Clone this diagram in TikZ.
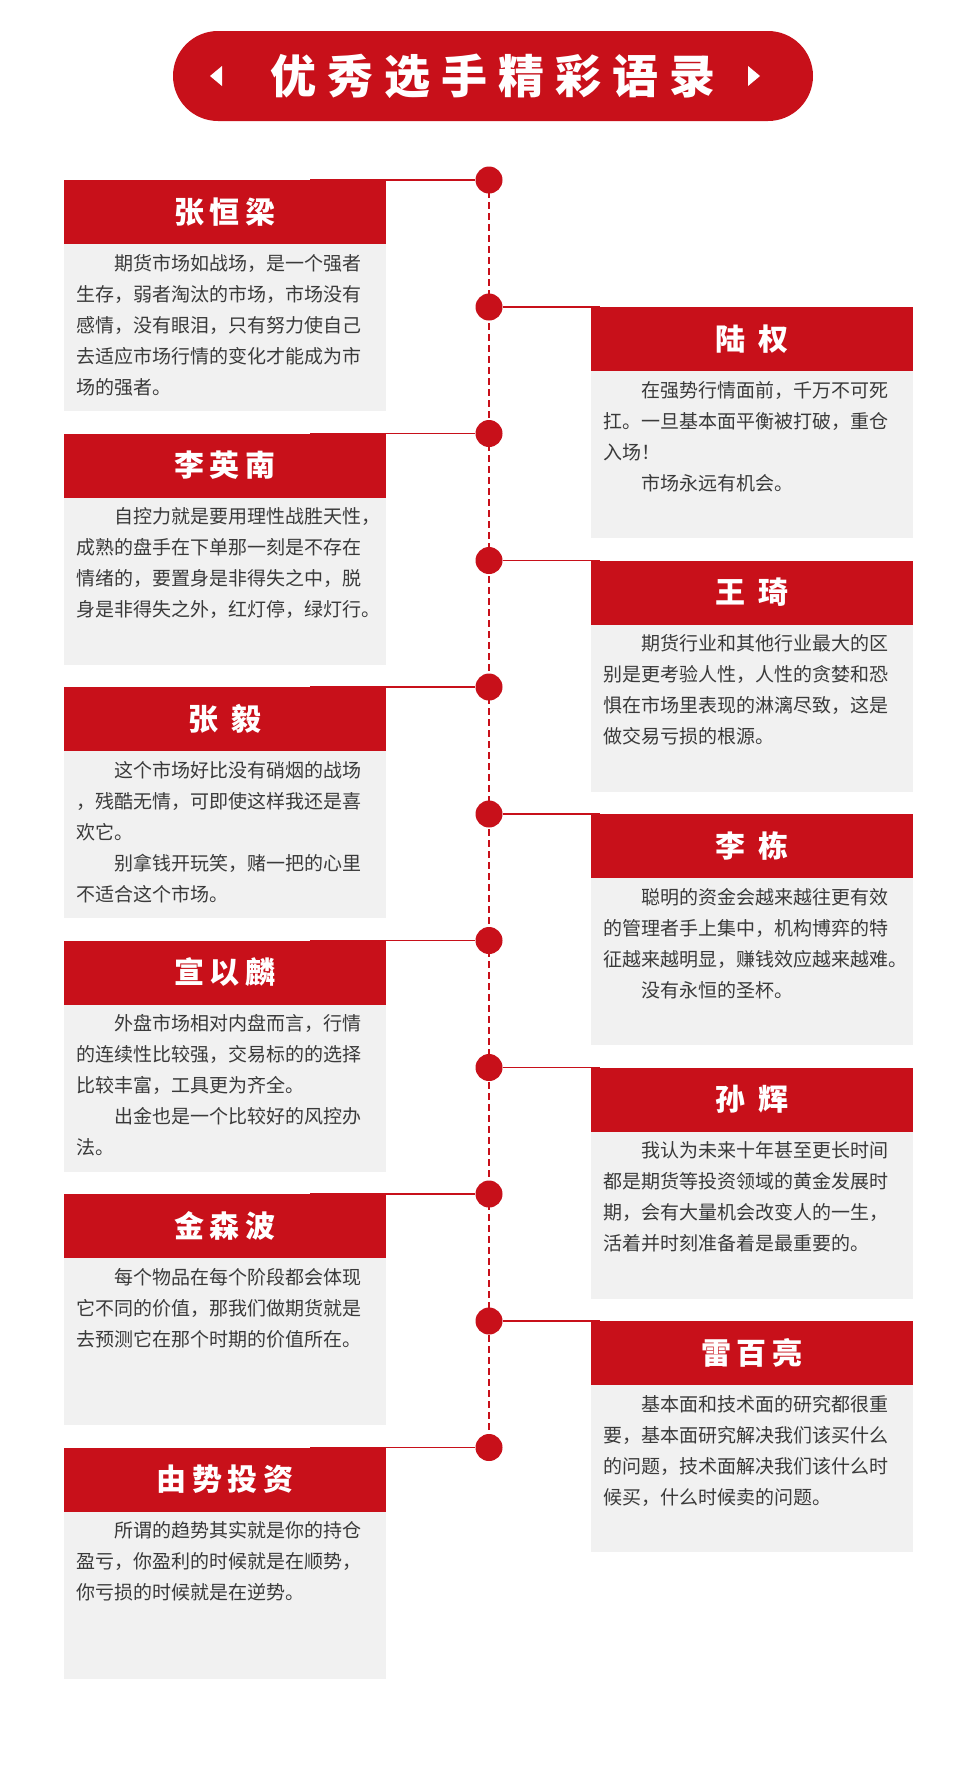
\documentclass[tikz,border=0pt]{standalone}
\usepackage{fontspec}
\setmainfont{Noto Sans CJK SC}
\newfontfamily\hdfont{Noto Sans CJK SC}[LetterSpace=18]
\newfontfamily\ttlfont{Noto Sans CJK SC}[LetterSpace=24]
\definecolor{myred}{HTML}{C8101A}
\definecolor{mygrey}{HTML}{F1F1F1}
\definecolor{mytext}{HTML}{3A3A3A}
\newcommand{\ind}{\hspace*{2em}}
\begin{document}
\begin{tikzpicture}[x=1pt,y=-1pt,
  hdr/.style={fill=myred,minimum width=322pt,minimum height=64pt,inner sep=0pt,anchor=north west},
  bodybox/.style={fill=mygrey,minimum width=322pt,minimum height=167pt,inner sep=0pt,anchor=north west},
  hdtext/.style={text=white,font=\hdfont\bfseries\fontsize{30}{32}\selectfont},
  bodytext/.style={anchor=north west,inner sep=0pt,text=mytext,align=left,font=\fontsize{19}{31}\selectfont},
  dot/.style={circle,fill=myred,minimum size=27pt,inner sep=0pt},
  conn/.style={myred,line width=1.2pt}]
\useasboundingbox (0,0) rectangle (980,1765);
\fill[white] (0,0) rectangle (980,1765);
% title
\node[fill=myred,rounded corners=45pt,minimum width=640pt,minimum height=90pt,inner sep=0pt] (title) at (493,76) {};
\node[text=white,font=\ttlfont\bfseries\fontsize{46}{48}\selectfont] (ttxt) at (493,76) {优秀选手精彩语录};
\fill[white] (210,76) -- (222,66) -- (222,86) -- cycle;
\fill[white] (760,76) -- (748,66) -- (748,86) -- cycle;
% entries
\newcommand{\entry}[6]{% name, x, y, title, text, side(L/R)
  \node[bodybox] (#1b) at (#2,#3+64) {};
  \node[hdr] (#1h) at (#2,#3) {};
  \node[hdtext] (#1t) at (#2+161,#3+32) {#4};
  \node[bodytext] (#1x) at (#2+12,#3+74) {#5};
  \node[dot] (#1d) at (489,#3) {};
  \coordinate (#1c) at (#6,#3);
  \draw[conn] (#1d) -- (#1c);
}
\draw[myred,line width=1.5pt,dash pattern=on 7pt off 4pt] (489,180) -- (489,1447.5);
\entry{a}{64}{180}{张恒梁}{\ind 期货市场如战场，是一个强者\\生存，弱者淘汰的市场，市场没有\\感情，没有眼泪，只有努力使自己\\去适应市场行情的变化才能成为市\\场的强者。}{310}
\entry{b}{591}{307}{陆 权}{\ind 在强势行情面前，千万不可死\\扛。一旦基本面平衡被打破，重仓\\入场！\\\ind 市场永远有机会。}{600}
\entry{c}{64}{433.5}{李英南}{\ind 自控力就是要用理性战胜天性，\\成熟的盘手在下单那一刻是不存在\\情绪的，要置身是非得失之中，脱\\身是非得失之外，红灯停，绿灯行。}{310}
\entry{d}{591}{560.5}{王 琦}{\ind 期货行业和其他行业最大的区\\别是更考验人性，人性的贪婪和恐\\惧在市场里表现的淋漓尽致，这是\\做交易亏损的根源。}{600}
\entry{e}{64}{687}{张 毅}{\ind 这个市场好比没有硝烟的战场\\，残酷无情，可即使这样我还是喜\\欢它。\\\ind 别拿钱开玩笑，赌一把的心里\\不适合这个市场。}{310}
\entry{f}{591}{814}{李 栋}{\ind 聪明的资金会越来越往更有效\\的管理者手上集中，机构博弈的特\\征越来越明显，赚钱效应越来越难。\\\ind 没有永恒的圣杯。}{600}
\entry{g}{64}{940.5}{宣以麟}{\ind 外盘市场相对内盘而言，行情\\的连续性比较强，交易标的的选择\\比较丰富，工具更为齐全。\\\ind 出金也是一个比较好的风控办\\法。}{310}
\entry{h}{591}{1067.5}{孙 辉}{\ind 我认为未来十年甚至更长时间\\都是期货等投资领域的黄金发展时\\期，会有大量机会改变人的一生，\\活着并时刻准备着是最重要的。}{600}
\entry{i}{64}{1194}{金森波}{\ind 每个物品在每个阶段都会体现\\它不同的价值，那我们做期货就是\\去预测它在那个时期的价值所在。}{310}
\entry{j}{591}{1321}{雷百亮}{\ind 基本面和技术面的研究都很重\\要，基本面研究解决我们该买什么\\的问题，技术面解决我们该什么时\\候买，什么时候卖的问题。}{600}
\entry{k}{64}{1447.5}{由势投资}{\ind 所谓的趋势其实就是你的持仓\\盈亏，你盈利的时候就是在顺势，\\你亏损的时候就是在逆势。}{310}
\end{tikzpicture}
\end{document}
